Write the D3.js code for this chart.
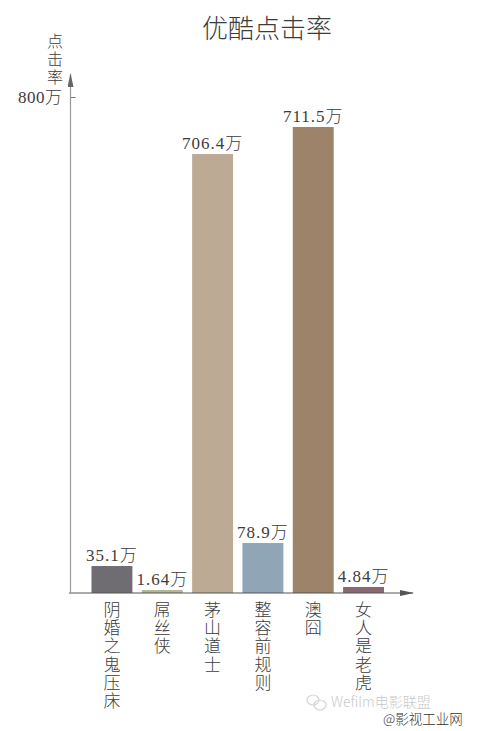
<!DOCTYPE html>
<html lang="zh-CN">
<head>
<meta charset="utf-8">
<script src="https://cdnjs.cloudflare.com/ajax/libs/d3/7.8.5/d3.min.js"></script>
<style>
  html, body { margin: 0; padding: 0; background: #fff; }
  svg { display: block; }
  text { font-family: "Liberation Serif", "Noto Sans CJK SC", serif; font-weight: 300; fill: #3c3c3c; }
</style>
</head>
<body>
<div id="chart"></div>
<script>
var width = 485;
var height = 731;

const categories = ["阴婚之鬼压床", "屌丝侠", "茅山道士", "整容前规则", "澳囧", "女人是老虎"];
// Printed labels, as in the picture
const valueLabels = ["35.1万", "1.64万", "706.4万", "78.9万", "711.5万", "4.84万"];
// Bar heights as drawn, read against the 800万 tick. The source picture is not
// to scale, so these differ from the printed labels
const drawnValues = [43.5, 4.8, 708, 80.6, 751.6, 9.7];
const barColors = ["#6f6d72", "#b4b794", "#bdaa94", "#90a6b7", "#9c8369", "#8b6675"];
const yTicks = [800];

var svg = d3.select("#chart").append("svg")
    .attr("width", width)
    .attr("height", height);

var xScale = d3.scaleBand().domain(categories).range([91.5, 384]).paddingInner(0.187);
var yScale = d3.scaleLinear().domain([0, 800]).range([593, 97]);

// Arrow heads, one marker per colour, turned along the line by orient=auto
function addArrow(id, color) {
    svg.append("defs").append("marker").attr("id", id)
        .attr("viewBox", "0 0 14 6").attr("refX", 13).attr("refY", 3)
        .attr("markerWidth", 14).attr("markerHeight", 6)
        .attr("markerUnits", "userSpaceOnUse").attr("orient", "auto")
        .append("path").attr("d", "M0,0 L14,3 L0,6 Z").attr("fill", color);
}
addArrow("arrowUp", "#666");
addArrow("arrowRight", "#555");

// Title
svg.append("text")
    .attr("x", 267).attr("y", 38)
    .attr("text-anchor", "middle")
    .style("font-size", "26px")
    .text("优酷点击率");

// Bars
svg.selectAll("rect.bar")
    .data(categories)
    .enter()
    .append("rect")
    .attr("class", "bar")
    .attr("x", function(d) { return xScale(d); })
    .attr("width", xScale.bandwidth())
    .attr("y", function(d, i) { return yScale(drawnValues[i]); })
    .attr("height", function(d, i) { return yScale(0) - yScale(drawnValues[i]); })
    .attr("fill", function(d, i) { return barColors[i]; });

// Value labels
svg.selectAll("text.value")
    .data(categories)
    .enter()
    .append("text")
    .attr("class", "value")
    .attr("x", function(d) { return xScale(d) + xScale.bandwidth() / 2; })
    .attr("y", function(d, i) { return yScale(drawnValues[i]) - 5; })
    .attr("text-anchor", "middle")
    .style("font-size", "17px")
    .style("letter-spacing", "1px")
    .text(function(d, i) { return valueLabels[i]; });

// x axis, category names stacked one character per line
var xAxisG = svg.append("g")
    .attr("transform", "translate(0," + yScale(0) + ")")
    .call(d3.axisBottom(xScale).tickSize(0));
xAxisG.select(".domain").remove();
xAxisG.append("line")
    .attr("x1", 69).attr("x2", 413)
    .attr("stroke", "#555").attr("stroke-width", 1.2)
    .attr("marker-end", "url(#arrowRight)");
xAxisG.selectAll(".tick text").each(function(d) {
    var label = d3.select(this).text("").attr("y", 0).attr("dy", null);
    Array.from(d).forEach(function(ch, i) {
        label.append("tspan")
            .attr("x", 0)
            .attr("y", 23 + i * 18.2)
            .text(ch);
    });
}).style("font-size", "17px").style("font-family", null).attr("text-anchor", "middle");

// y axis
var yAxisG = svg.append("g")
    .attr("transform", "translate(70.5,0)")
    .call(d3.axisRight(yScale).tickValues(yTicks).tickSize(5).tickFormat(function(d) { return d + "万"; }));
yAxisG.select(".domain").remove();
yAxisG.append("line")
    .attr("y1", yScale(0)).attr("y2", 74)
    .attr("stroke", "#999").attr("stroke-width", 1.2)
    .attr("marker-end", "url(#arrowUp)");
yAxisG.selectAll(".tick line").attr("stroke", "#777");
yAxisG.selectAll(".tick text")
    .attr("x", -8).attr("dy", "0.35em")
    .attr("text-anchor", "end")
    .style("font-size", "17px")
    .style("letter-spacing", "0.5px")
    .style("font-family", null);

// y axis title
var yTitle = svg.append("text").attr("text-anchor", "middle").style("font-size", "16px");
Array.from("点击率").forEach(function(ch, i) {
    yTitle.append("tspan").attr("x", 55).attr("y", 47 + i * 18).text(ch);
});

// Watermarks
var mark = svg.append("g").attr("transform", "translate(316,703)")
    .attr("fill", "none").attr("stroke", "#d4d4d4").attr("stroke-width", 1.2);
mark.append("ellipse").attr("cx", -3).attr("cy", -3).attr("rx", 6).attr("ry", 5);
mark.append("ellipse").attr("cx", 4).attr("cy", 2).attr("rx", 6).attr("ry", 5);

svg.append("text")
    .attr("x", 331).attr("y", 707)
    .style("font-family", "'Noto Sans CJK SC', sans-serif")
    .style("font-size", "14px")
    .style("fill", "#c9c9c9")
    .text("Wefilm电影联盟");
svg.append("text")
    .attr("x", 383).attr("y", 724)
    .style("font-family", "'Noto Sans CJK SC', sans-serif")
    .style("font-size", "13.5px")
    .style("fill", "#333")
    .text("@影视工业网");
</script>
</body>
</html>
